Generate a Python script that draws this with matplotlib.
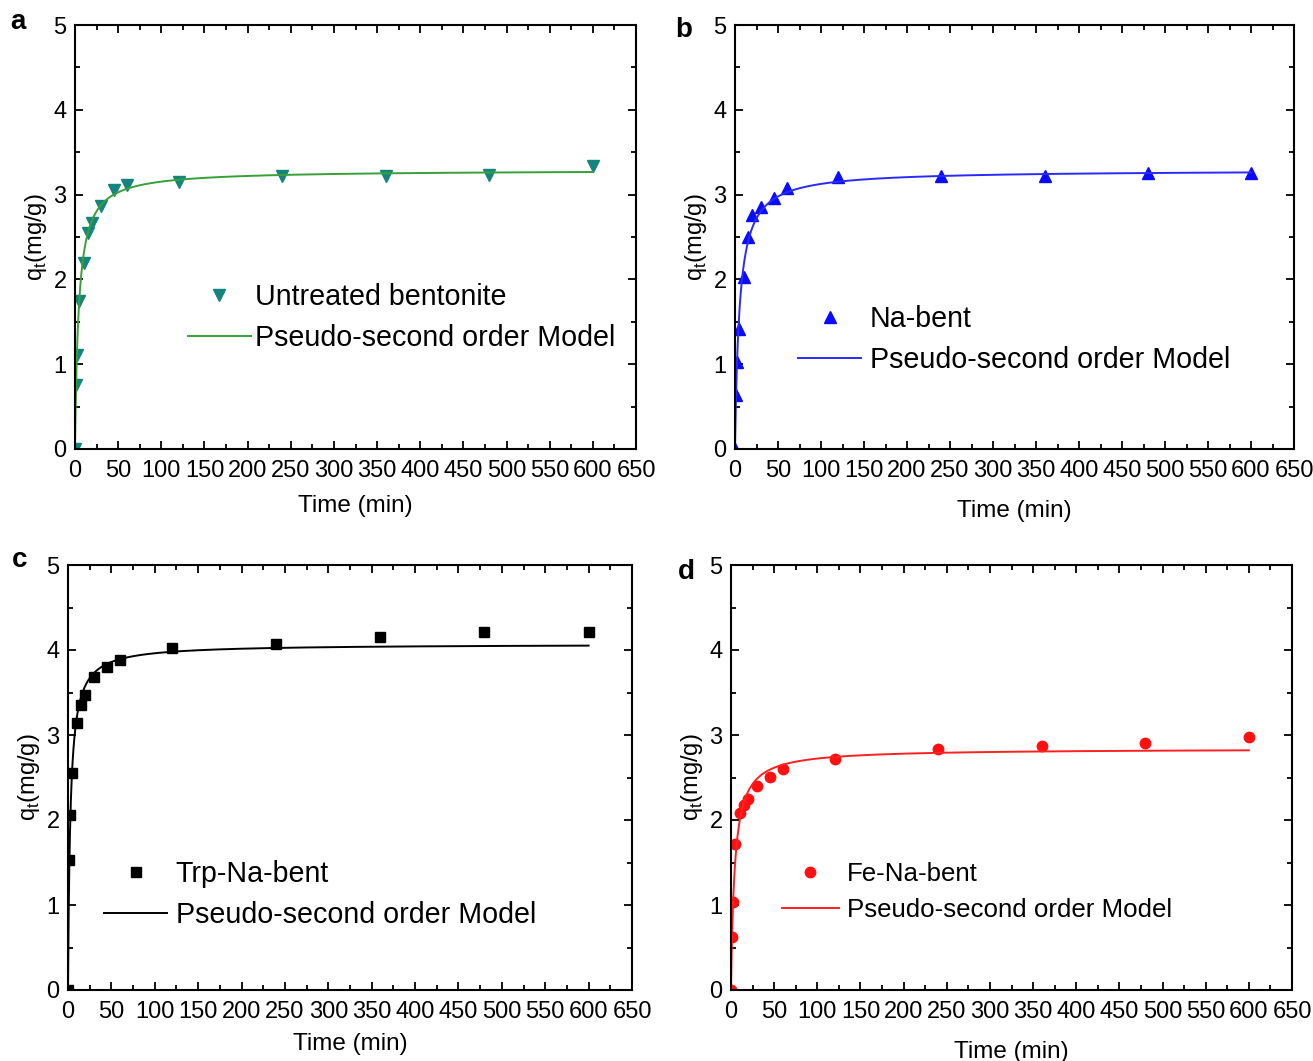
import numpy as np
import matplotlib
matplotlib.use("Agg")
import matplotlib.pyplot as plt
from matplotlib.ticker import MultipleLocator

plt.rcParams['font.family'] = ['Liberation Sans', 'DejaVu Sans']

# contact times (min)
t_data = [0, 1, 2, 5, 10, 15, 20, 30, 45, 60, 120, 240, 360, 480, 600]

# measured uptake q_t (mg/g)
q_untreated = [0, 0.75, 1.11, 1.75, 2.19, 2.55, 2.67, 2.86, 3.06, 3.11, 3.15, 3.22, 3.22, 3.23, 3.34]
q_na = [0, 0.64, 1.03, 1.42, 2.03, 2.50, 2.76, 2.85, 2.96, 3.08, 3.21, 3.22, 3.22, 3.25, 3.25]
q_trp = [0, 1.53, 2.06, 2.55, 3.14, 3.35, 3.47, 3.68, 3.80, 3.88, 4.02, 4.07, 4.15, 4.21, 4.21]
q_fe = [0, 0.62, 1.04, 1.72, 2.08, 2.18, 2.25, 2.40, 2.51, 2.60, 2.72, 2.84, 2.87, 2.91, 2.98]

# pseudo-second order parameters (qe in mg/g, k in g/mg/min)
qe_fit = [3.29, 3.29, 4.07, 2.84]
k_fit = [0.070, 0.058, 0.090, 0.082]

labels = ["Untreated bentonite", "Na-bent", "Trp-Na-bent", "Fe-Na-bent"]
panel_tags = ["a", "b", "c", "d"]
series = [q_untreated, q_na, q_trp, q_fe]

marker_styles = [
    dict(marker="v", color="#14847e", ms=8),
    dict(marker="^", color="#0a0aff", ms=8),
    dict(marker="s", color="black", ms=6.5),
    dict(marker="o", color="#ff1010", ms=7.5),
]
line_colors = ["#38a038", "#2a2aff", "black", "#ff2020"]

# [left, top, width, height] in figure pixels (y from top)
boxes = [(75, 25, 561, 424), (735, 25, 559, 424),
         (68, 565, 564, 425), (731, 565, 561, 425)]
legend_anchor = [(0.201, 0.311), (0.113, 0.259), (0.064, 0.224), (0.091, 0.231)]
legend_size = [20.6, 20.6, 20.6, 18.6]
text_pad = [0.15, 0.3, 0.3, 0.3]
xlabel_pad = [9, 13, 7, 13]
tag_pos = [(18, 22), (684, 30), (20, 560), (686, 572)]

W, H = 1313, 1061
fig = plt.figure(figsize=(W / 100, H / 100), dpi=100)


def pso(t, qe, k):
    return k * qe ** 2 * t / (1 + k * qe * t)


t_fit = np.linspace(0, 600, 2401)

for i in range(4):
    x0, y0, w, h = boxes[i]
    ax = fig.add_axes([x0 / W, 1 - (y0 + h) / H, w / W, h / H])
    ax.plot(t_data, series[i], linestyle="none", label=labels[i], **marker_styles[i])
    ax.plot(t_fit, pso(t_fit, qe_fit[i], k_fit[i]), color=line_colors[i], lw=1.4,
            label="Pseudo-second order Model")

    ax.set_xlim(0, 650)
    ax.set_ylim(0, 5)
    ax.xaxis.set_major_locator(MultipleLocator(50))
    ax.xaxis.set_minor_locator(MultipleLocator(25))
    ax.yaxis.set_major_locator(MultipleLocator(1))
    ax.yaxis.set_minor_locator(MultipleLocator(0.5))
    ax.tick_params(which="both", direction="in", top=True, right=True, width=1.3)
    ax.tick_params(which="major", length=6)
    ax.tick_params(which="minor", length=3.5)
    ax.tick_params(axis="x", labelsize=17, pad=8)
    ax.tick_params(axis="y", labelsize=17, pad=6)
    for s in ax.spines.values():
        s.set_linewidth(1.5)

    ax.set_xlabel("Time (min)", fontsize=17.5, labelpad=xlabel_pad[i])
    ax.set_ylabel(r"q$_\mathregular{t}$(mg/g)", fontsize=17, labelpad=3)

    ax.legend(loc="center left", bbox_to_anchor=legend_anchor[i], frameon=False,
              fontsize=legend_size[i], borderpad=0, handlelength=2.2,
              handletextpad=text_pad[i], labelspacing=0.45, borderaxespad=0)

    tx, ty = tag_pos[i]
    fig.text(tx / W, 1 - ty / H, panel_tags[i], fontsize=20, fontweight="bold",
             ha="center", va="center")

fig.savefig("out.png", dpi=100)
